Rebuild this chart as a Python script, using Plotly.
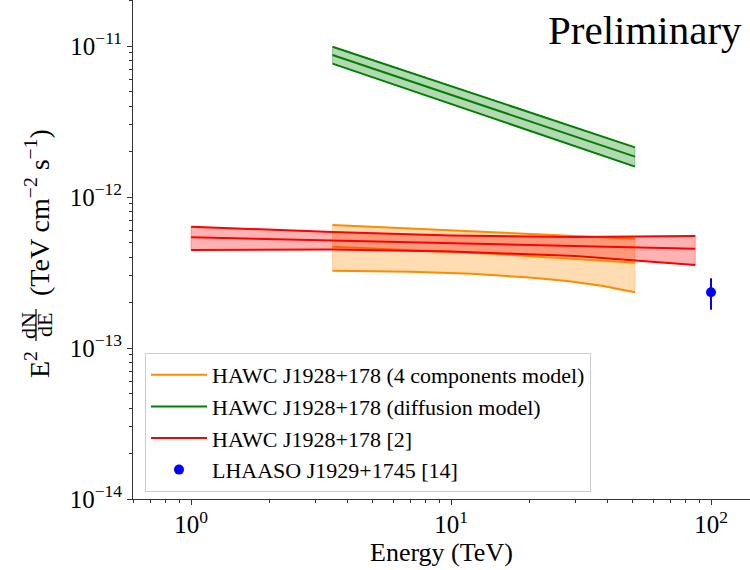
import numpy as np
import plotly.graph_objects as go

# ---------------- data ----------------
# HAWC J1928+178 (4 components model) - orange
orange_E = [3.5, 15, 51]
orange_mid = [4.69e-13, 4.19e-13, 3.67e-13]
orange_up = [6.53e-13, 5.86e-13, 5.30e-13]
orange_lo_E = [3.5, 7, 12, 20, 28, 38, 51]
orange_lo = [3.25e-13, 3.20e-13, 3.10e-13, 2.93e-13, 2.78e-13, 2.58e-13, 2.34e-13]

# HAWC J1928+178 (diffusion model) - green
green_E = [3.5, 51]
green_mid = [8.72e-12, 1.85e-12]
green_up = [9.89e-12, 2.13e-12]
green_lo = [7.64e-12, 1.59e-12]

# HAWC J1928+178 [2] - red
red_E = [1.0, 3.5, 10, 30, 87]
red_up = [6.36e-13, 5.86e-13, 5.56e-13, 5.43e-13, 5.52e-13]
red_lo = [4.46e-13, 4.49e-13, 4.36e-13, 4.06e-13, 3.55e-13]
red_mid_E = [1.0, 87]
red_mid = [5.41e-13, 4.55e-13]

# LHAASO J1929+1745 [14] - blue point
lhaaso_E = [100]
lhaaso_F = [2.34e-13]
lhaaso_err_up = [0.56e-13]
lhaaso_err_lo = [0.55e-13]

labels = ["HAWC J1928+178 (4 components model)",
          "HAWC J1928+178 (diffusion model)",
          "HAWC J1928+178 [2]",
          "LHAASO J1929+1745 [14]"]

x_ticks = [1, 10, 100]
x_ticktext = ["10<sup>0</sup>", "10<sup>1</sup>", "10<sup>2</sup>"]
y_ticks = [1e-14, 1e-13, 1e-12, 1e-11]
y_ticktext = ["10<sup>−14</sup>", "10<sup>−13</sup>", "10<sup>−12</sup>", "10<sup>−11</sup>"]

# ---------------- styling ----------------
FONT = "Liberation Serif"
W, H = 750, 570
L, R, T, B = 133, 0, 0, 71
PW, PH = W - L - R, H - T - B

def px_x(p):
    return (p - L) / PW

def px_y(p):
    return (H - B - p) / PH

ORANGE = "#FF8C00"
GREEN = "#008000"
RED = "#FF0000"
BLUE = "#0000FF"

def rgba(hexc, a):
    h = hexc.lstrip("#")
    return "rgba(%d,%d,%d,%.2f)" % (int(h[0:2], 16), int(h[2:4], 16), int(h[4:6], 16), a)

fig = go.Figure()

def band(xu, yu, xl, yl, color):
    xs = list(xu) + list(xl)[::-1] + [xu[0]]
    ys = list(yu) + list(yl)[::-1] + [yu[0]]
    fig.add_trace(go.Scatter(x=xs, y=ys, mode="lines", fill="toself",
                             fillcolor=rgba(color, 0.3),
                             line=dict(color=rgba(color, 0.3), width=1),
                             showlegend=False, hoverinfo="skip"))

def line(x, y, color, name=None, rank=None):
    fig.add_trace(go.Scatter(x=x, y=y, mode="lines",
                             line=dict(color=color, width=2),
                             name=name if name else "",
                             showlegend=name is not None,
                             legendrank=rank if rank else 1000,
                             legendgroup=name if name else None))

# orange
band(orange_E, orange_up, orange_lo_E, orange_lo, ORANGE)
line(orange_E, orange_up, ORANGE)
line(orange_lo_E, orange_lo, ORANGE)
line(orange_E, orange_mid, ORANGE, labels[0], 1)
# green
band(green_E, green_up, green_E, green_lo, GREEN)
line(green_E, green_up, GREEN)
line(green_E, green_lo, GREEN)
line(green_E, green_mid, GREEN, labels[1], 2)
# red
band(red_E, red_up, red_E, red_lo, RED)
line(red_E, red_up, RED)
line(red_E, red_lo, RED)
line(red_mid_E, red_mid, RED, labels[2], 3)
# blue
fig.add_trace(go.Scatter(x=lhaaso_E, y=lhaaso_F, mode="markers",
                         marker=dict(color=BLUE, size=10),
                         error_y=dict(type="data", array=lhaaso_err_up,
                                      arrayminus=lhaaso_err_lo, color=BLUE,
                                      thickness=2, width=0),
                         name=labels[3], legendrank=4, legendgroup=labels[3]))

# minor tick positions
x_minor = [m * 10.0 ** d for d in range(-1, 3) for m in range(2, 10)]
y_minor = [m * 10.0 ** d for d in range(-15, -10) for m in range(2, 10)]

AX = "#333333"
fig.update_xaxes(type="log", range=[np.log10(0.598), 2.15],
                 tickmode="array", tickvals=x_ticks, ticktext=x_ticktext,
                 ticks="outside", ticklen=5, tickwidth=1, tickcolor=AX,
                 minor=dict(tickmode="array", tickvals=x_minor, ticks="outside",
                            ticklen=3, tickwidth=1, tickcolor=AX, showgrid=False),
                 showline=True, linecolor=AX, linewidth=1, mirror=True,
                 showgrid=False, zeroline=False, automargin=False,
                 ticklabelstandoff=-2,
                 tickfont=dict(family=FONT, size=25, color="black"))
fig.update_yaxes(type="log", range=[-14, -14 + 499 / 151],
                 tickmode="array", tickvals=y_ticks, ticktext=y_ticktext,
                 ticks="outside", ticklen=5, tickwidth=1, tickcolor=AX,
                 minor=dict(tickmode="array", tickvals=y_minor, ticks="outside",
                            ticklen=3, tickwidth=1, tickcolor=AX, showgrid=False),
                 showline=True, linecolor=AX, linewidth=1, mirror=True,
                 showgrid=False, zeroline=False, automargin=False,
                 tickfont=dict(family=FONT, size=25, color="black"))

# x-axis title
fig.add_annotation(xref="paper", yref="paper", x=0.5, y=px_y(552),
                   xanchor="center", yanchor="middle", showarrow=False,
                   text="Energy (TeV)", font=dict(family=FONT, size=26, color="black"))

# y-axis title built as rotated text pieces (E^2 dN/dE (...))
yt_font = dict(family=FONT, size=28, color="black")
fr_font = dict(family=FONT, size=22, color="black")
annos = [
    dict(text="E<sup>2</sup>", x=px_x(37), y=px_y(364), font=yt_font),
    dict(text="dN", x=px_x(28), y=px_y(325), font=fr_font),
    dict(text="dE", x=px_x(44), y=px_y(325), font=fr_font),
    dict(text="(TeV cm<sup>−2</sup> s<sup>−1</sup>)", x=px_x(37), y=px_y(212), font=yt_font),
]
for a in annos:
    fig.add_annotation(xref="paper", yref="paper", textangle=-90, showarrow=False,
                       xanchor="center", yanchor="middle", **a)
fig.add_shape(type="line", xref="paper", yref="paper",
              x0=px_x(36), x1=px_x(36), y0=px_y(309), y1=px_y(341),
              line=dict(color="black", width=1.2))

fig.add_annotation(xref="paper", yref="paper", x=px_x(744), y=px_y(30),
                   xanchor="right", yanchor="middle", showarrow=False,
                   text="Preliminary", font=dict(family=FONT, size=41, color="black"))

fig.update_layout(
    width=W, height=H,
    margin=dict(l=L, r=R, t=T, b=B, pad=0, autoexpand=False),
    paper_bgcolor="white", plot_bgcolor="white",
    showlegend=True,
    legend=dict(x=px_x(145), y=px_y(353), xanchor="left", yanchor="top",
                bgcolor="rgba(255,255,255,0.8)", bordercolor="#cccccc", borderwidth=1,
                font=dict(family=FONT, size=22, color="black"),
                tracegroupgap=0, itemwidth=56),
)

fig.write_html("out.html", config={"displayModeBar": False},
               post_script="document.body.style.margin='0px';")
